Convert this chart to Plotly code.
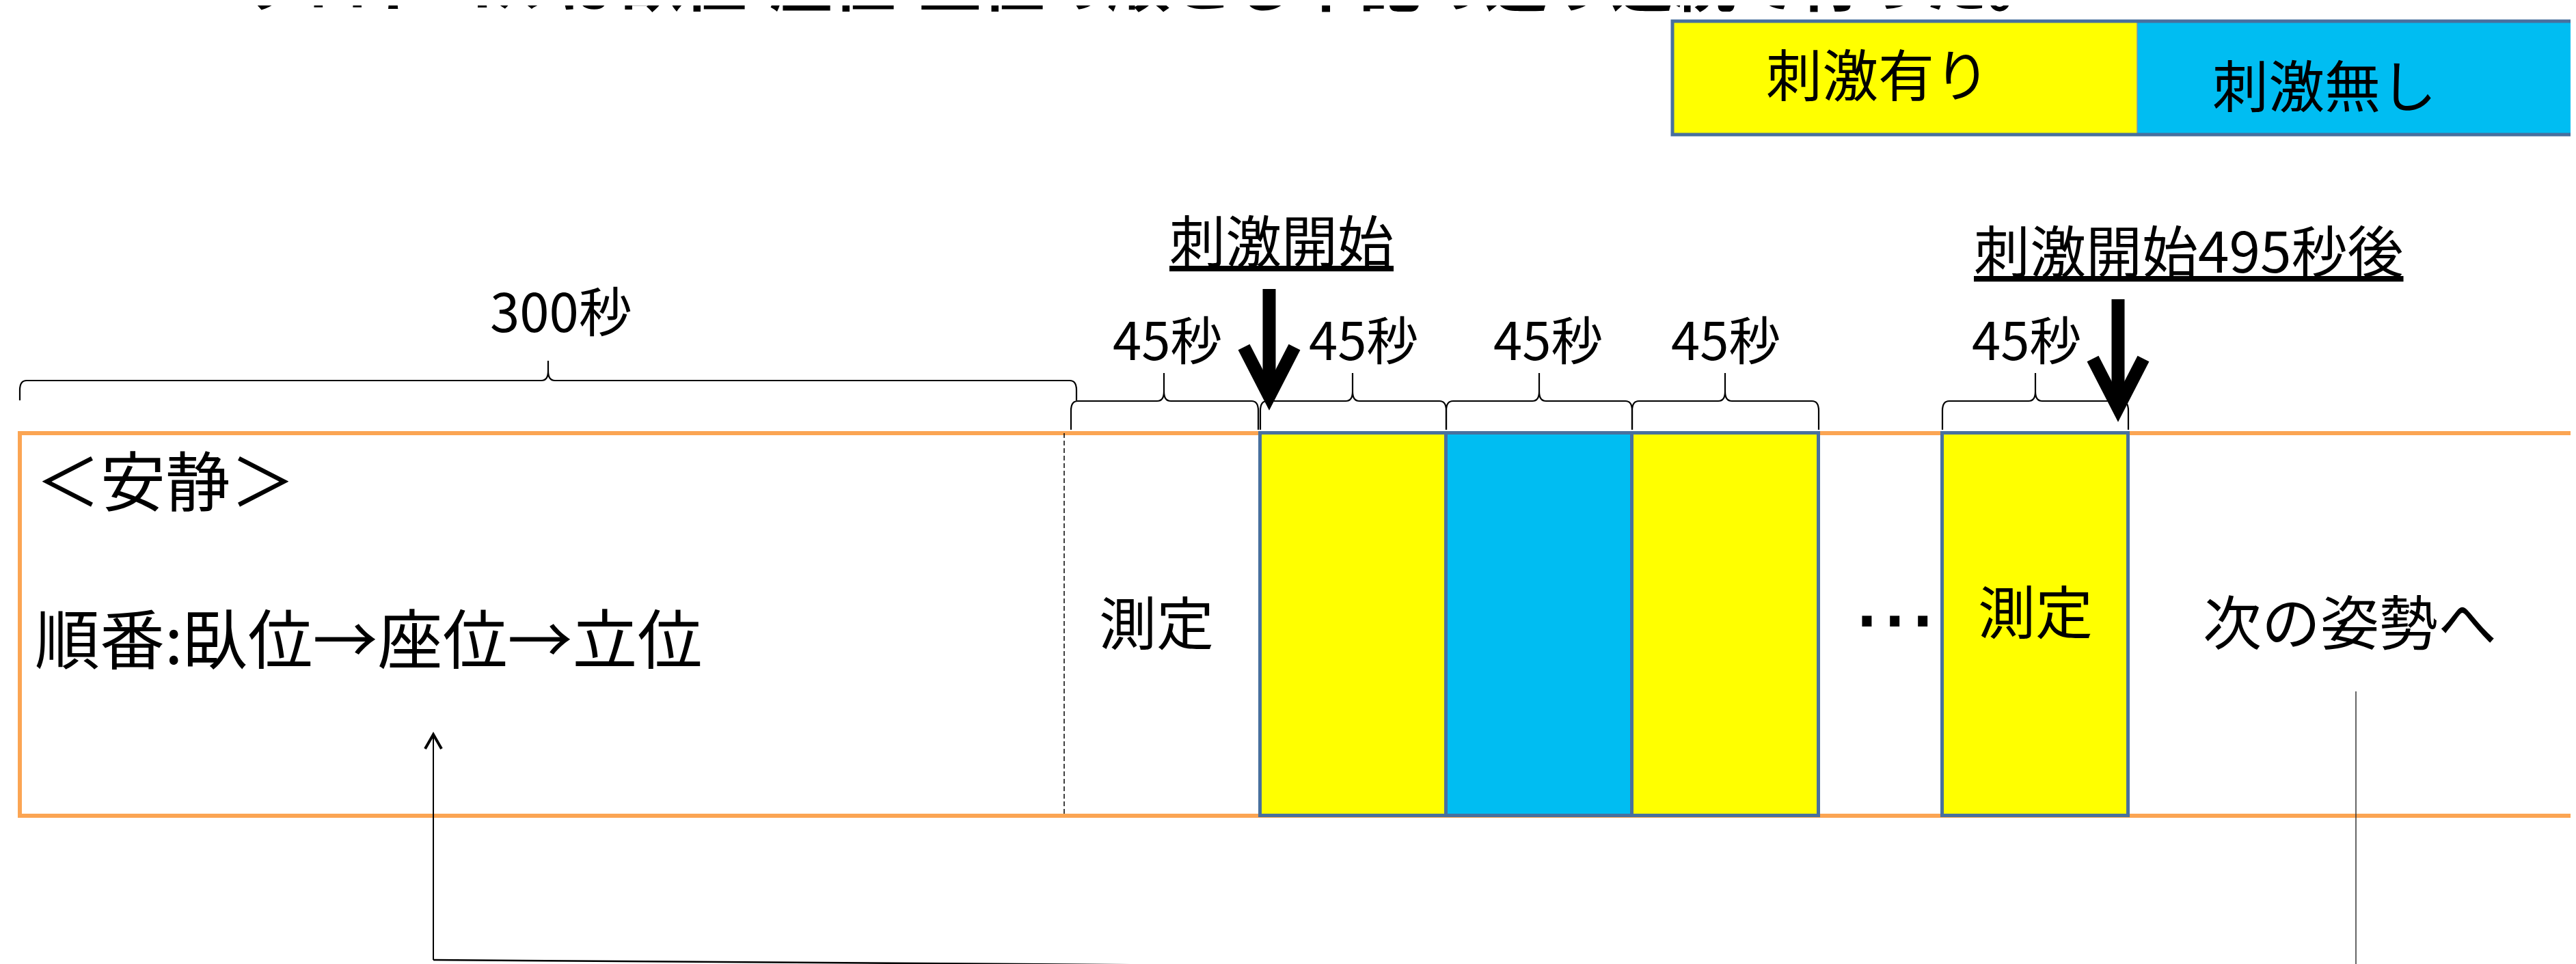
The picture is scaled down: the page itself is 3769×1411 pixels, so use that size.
import plotly.graph_objects as go

# ---------------- data ----------------
title_text = "プロトコルは臥位-座位-立位の順とし下記の通り連続で行った。"
legend_states = ["刺激有り", "刺激無し"]
rest_seconds = 300
rest_lines = ["＜安静＞", "順番:臥位→座位→立位"]
block_seconds = [45, 45, 45, 45, 45]
block_states = ["測定", "刺激有り", "刺激無し", "刺激有り", "刺激有り"]
block_texts = ["測定", "", "", "", "測定"]
event_labels = ["刺激開始", "刺激開始495秒後"]
gap_text = "..."
next_text = "次の姿勢へ"

# ---------------- layout (pixel space of the page) ----------------
W, H = 3769, 1411
OFF = 8  # default page margin of the html body
JP = "Noto Sans CJK JP"
COLORS = {"刺激有り": "#FFFF00", "刺激無し": "#00BDF2"}
EDGE = "#48709E"
ORANGE = "#FBA553"

BAND_Y0, BAND_Y1 = 634, 1194
REST_X0, REST_X1 = 29, 1557
BLOCK_X0 = [1567, 1844, 2116, 2388, 2842]
BLOCK_X1 = [1841, 2116, 2388, 2661, 3114]
BLOCK_TIP = [1703, 1979, 2252, 2524, 2978]
BLOCK_LABEL_X = [1708, 1995, 2265, 2525, 2965]
BLOCK_TEXT_X = [1692, None, None, None, 2978]
BLOCK_TEXT_Y = [912, None, None, None, 896]
EVENT_X = [1857, 3099]
EVENT_TOP = [423, 438]
EVENT_TIP = [602, 619]
EVENT_LABEL_X = [1875, 3202]
EVENT_LABEL_Y = [353, 368]


def txt(text, x, yc, size, family=JP, xanchor="center"):
    return dict(text=text, x=x, y=yc - 0.056 * size, xref="x", yref="y",
                showarrow=False, font=dict(family=family, size=size, color="black"),
                xanchor=xanchor, yanchor="middle")


def brace(x0, x1, xm, yh, yb, yt, r=10):
    return (f"M{x0},{yb} L{x0},{yh + 14} Q{x0},{yh} {x0 + r},{yh} "
            f"L{xm - r},{yh} Q{xm},{yh} {xm},{yh - 14} L{xm},{yt} "
            f"M{xm},{yh - 14} Q{xm},{yh} {xm + r},{yh} "
            f"L{x1 - r},{yh} Q{x1},{yh} {x1},{yh + 14} L{x1},{yb}")


fig = go.Figure()

# coloured stimulus blocks as bars
bx, bw, bc = [], [], []
for s, x0, x1 in zip(block_states, BLOCK_X0, BLOCK_X1):
    if s in COLORS:
        bx.append((x0 + x1) / 2)
        bw.append(x1 - x0)
        bc.append(COLORS[s])
fig.add_trace(go.Bar(x=bx, y=[BAND_Y1 - BAND_Y0] * len(bx), base=[BAND_Y0] * len(bx),
                     width=bw, marker=dict(color=bc, line=dict(color=EDGE, width=5)),
                     hoverinfo="skip", showlegend=False))

shapes = []
# orange band
shapes.append(dict(type="rect", xref="x", yref="y", x0=REST_X0, x1=W + 60, y0=BAND_Y0, y1=BAND_Y1,
                   line=dict(color=ORANGE, width=6), fillcolor="rgba(0,0,0,0)", layer="below"))
# dashed separator
shapes.append(dict(type="line", xref="x", yref="y", x0=REST_X1, x1=REST_X1, y0=BAND_Y0, y1=BAND_Y1,
                   line=dict(color="black", width=1.5, dash="7px,4px")))

# legend
LEG_X = [2447, 3127, W + 60]
for i, s in enumerate(legend_states):
    shapes.append(dict(type="rect", xref="x", yref="y", x0=LEG_X[i], x1=LEG_X[i + 1], y0=31, y1=197,
                       line=dict(width=0), fillcolor=COLORS[s]))
shapes.append(dict(type="line", xref="x", yref="y", x0=LEG_X[1], x1=LEG_X[1], y0=31, y1=197,
                   line=dict(color="#7f93a8", width=1.5)))
shapes.append(dict(type="rect", xref="x", yref="y", x0=LEG_X[0], x1=LEG_X[2], y0=31, y1=197,
                   line=dict(color=EDGE, width=5), fillcolor="rgba(0,0,0,0)"))

# braces
shapes.append(dict(type="path", xref="x", yref="y",
                   path=brace(REST_X0, 1575, 802, 557, 586, 528),
                   line=dict(color="black", width=2.2)))
for x0, x1, xm in zip(BLOCK_X0, BLOCK_X1, BLOCK_TIP):
    shapes.append(dict(type="path", xref="x", yref="y",
                       path=brace(x0, x1, xm, 587, 629, 546),
                       line=dict(color="black", width=2.2)))

# event arrows
for x, yt, tip in zip(EVENT_X, EVENT_TOP, EVENT_TIP):
    p = tip - 22
    shapes.append(dict(type="line", xref="x", yref="y", x0=x, x1=x, y0=yt, y1=p,
                       line=dict(color="black", width=19)))
    shapes.append(dict(type="path", xref="x", yref="y",
                       path=f"M{x - 37},{p - 72} L{x},{p} L{x + 37},{p - 72}",
                       line=dict(color="black", width=19)))

# connector at bottom
shapes.append(dict(type="line", xref="x", yref="y", x0=634, x1=634, y0=1076, y1=1405,
                   line=dict(color="black", width=2)))
shapes.append(dict(type="path", xref="x", yref="y",
                   path="M622,1096 L634,1075 L646,1096", line=dict(color="black", width=4)))
shapes.append(dict(type="line", xref="x", yref="y", x0=634, x1=3447, y0=1405, y1=1425,
                   line=dict(color="black", width=2.5)))
shapes.append(dict(type="line", xref="x", yref="y", x0=3447, x1=3447, y0=1012, y1=1425,
                   line=dict(color="#333333", width=1.5)))

ann = []
# title (cut off at the top of the page)
ann.append(dict(text=f"<b>{title_text}</b>", x=1678, y=1 - (-32 - OFF) / (H - OFF), xref="x", yref="paper",
                showarrow=False, font=dict(family=JP, size=92, color="black"),
                xanchor="center", yanchor="middle"))
# legend labels
ann.append(txt(legend_states[0], 2748, 110, 82))
ann.append(txt(legend_states[1], 3401, 126, 82))
# durations
ann.append(txt(f"{rest_seconds}秒", 821, 456, 78))
for x, s in zip(BLOCK_LABEL_X, block_seconds):
    ann.append(txt(f"{s}秒", x, 498, 76))
# events
for t, x, y in zip(event_labels, EVENT_LABEL_X, EVENT_LABEL_Y):
    ann.append(txt(f"<u>{t}</u>", x, y, 82))
# rest text
ann.append(txt(rest_lines[0], 50, 705, 95, xanchor="left"))
ann.append(txt(rest_lines[1], 49, 936, 95, xanchor="left"))
# block texts
for t, x, y in zip(block_texts, BLOCK_TEXT_X, BLOCK_TEXT_Y):
    if t:
        ann.append(txt(t, x, y, 84))
# gap dots and next posture
ann.append(dict(text=gap_text, x=2772, y=866, xref="x", yref="y", showarrow=False,
                font=dict(family="Liberation Sans", size=147, color="black"),
                xanchor="center", yanchor="middle"))
ann.append(txt(next_text, 3438, 911, 86))

fig.update_layout(
    width=W - OFF, height=H - OFF, margin=dict(l=0, r=0, t=0, b=0, pad=0),
    paper_bgcolor="white", plot_bgcolor="white",
    xaxis=dict(range=[OFF, W], visible=False, fixedrange=True),
    yaxis=dict(range=[H, OFF], visible=False, fixedrange=True),
    shapes=shapes, annotations=ann, showlegend=False, bargap=0,
)

fig.write_html("out.html", config={"displayModeBar": False})
